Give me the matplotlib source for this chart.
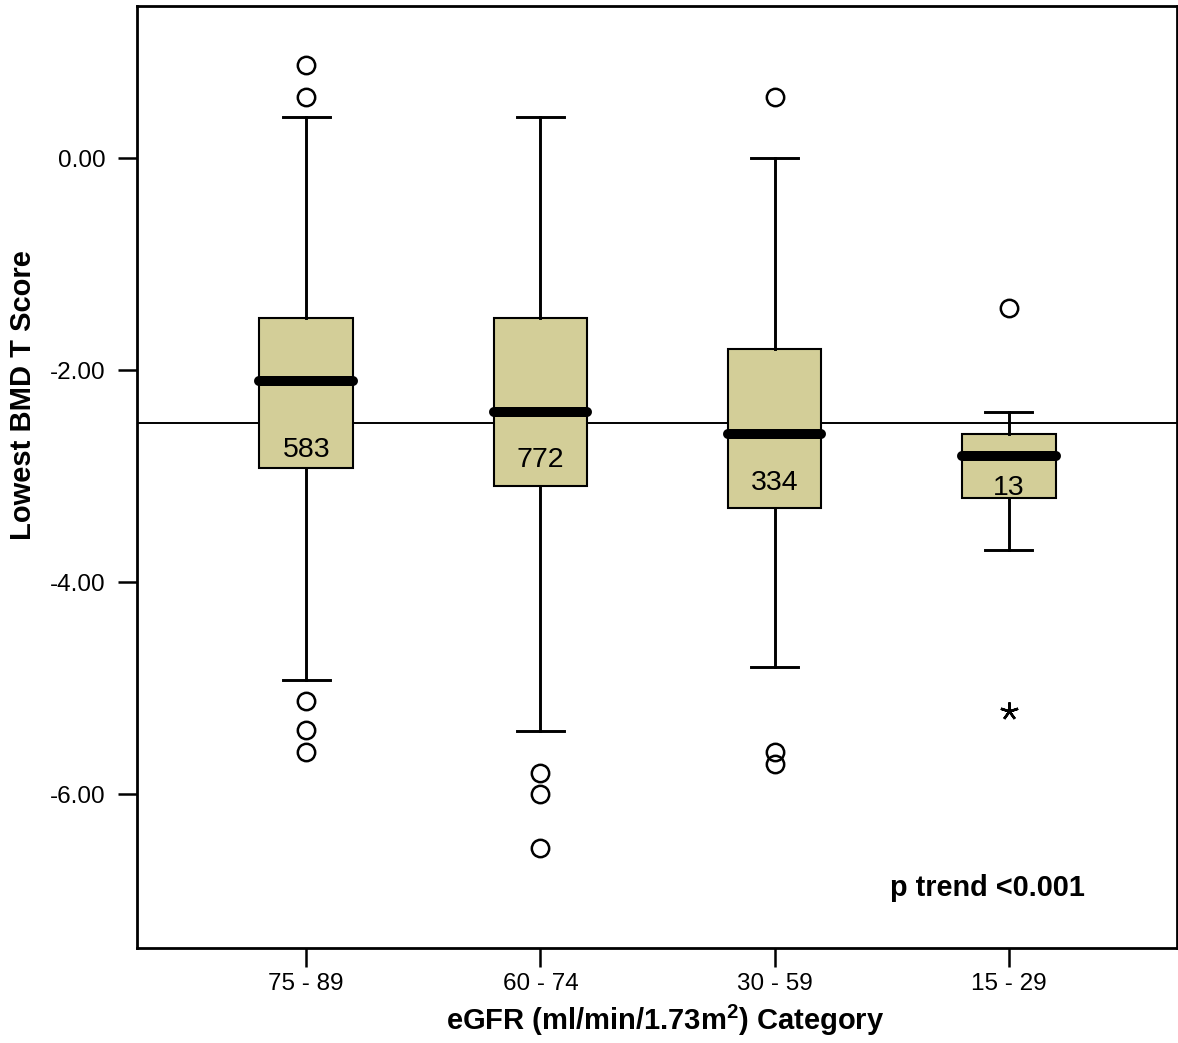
import matplotlib
matplotlib.use('Agg')
import matplotlib.pyplot as plt

plt.rcParams['font.family'] = ['Liberation Sans', 'DejaVu Sans']
plt.rcParams['axes.unicode_minus'] = False
plt.rcParams['mathtext.fontset'] = 'custom'
plt.rcParams['mathtext.rm'] = 'Liberation Sans'
plt.rcParams['mathtext.bf'] = 'Liberation Sans:bold'

# eGFR categories and box statistics
categories = ['75 - 89', '60 - 74', '30 - 59', '15 - 29']
counts = ['583', '772', '334', '13']
medians = [-2.10, -2.40, -2.60, -2.81]
q1 = [-2.92, -3.09, -3.30, -3.21]
q3 = [-1.51, -1.51, -1.80, -2.60]
whisker_low = [-4.92, -5.41, -4.80, -3.70]
whisker_high = [0.39, 0.39, 0.00, -2.40]
outliers = [
    [0.88, 0.58, -5.12, -5.40, -5.60],
    [-5.80, -6.00, -6.51],
    [0.58, -5.60, -5.72],
    [-1.41],
]
extremes = [[], [], [], [-5.22]]
count_label_y = [-2.75, -2.85, -3.07, -3.11]
osteoporosis_cut = -2.5

stats = []
for i in range(len(categories)):
    stats.append({
        'med': medians[i], 'q1': q1[i], 'q3': q3[i],
        'whislo': whisker_low[i], 'whishi': whisker_high[i],
        'fliers': outliers[i], 'label': categories[i],
    })

positions = [1, 2, 3, 4]

fig = plt.figure(figsize=(11.78, 10.43), dpi=100)
ax = fig.add_axes([0.116, 0.0914, 0.8829, 0.9033])

ax.axhline(osteoporosis_cut, color='black', linewidth=1.4, zorder=1)

ax.bxp(stats, positions=positions, widths=0.4, capwidths=0.2,
       patch_artist=True, showfliers=True,
       boxprops=dict(facecolor='#d3ce98', edgecolor='black', linewidth=1.5),
       whiskerprops=dict(color='black', linewidth=2.1),
       capprops=dict(color='black', linewidth=2.1),
       medianprops=dict(color='black', linewidth=7.2, solid_capstyle='round'),
       flierprops=dict(marker='o', markersize=12.5, markerfacecolor='none',
                       markeredgecolor='black', markeredgewidth=1.8, linestyle='none'),
       zorder=2)

for pos, vals in zip(positions, extremes):
    if vals:
        ax.plot([pos] * len(vals), vals, linestyle='none', marker=(5, 2, 0),
                markersize=13, markeredgewidth=1.8, color='black', zorder=3)

for pos, txt, y in zip(positions, counts, count_label_y):
    ax.text(pos, y, txt, ha='center', va='center', fontsize=20.5, zorder=4)

ax.text(3.907, -6.89, 'p trend <0.001', ha='center', va='center',
        fontsize=20.8, fontweight='bold')

ax.set_xlim(0.276, 4.717)
ax.set_ylim(-7.45, 1.44)
ax.set_xticks(positions)
ax.set_xticklabels(categories)
ax.set_yticks([0, -2, -4, -6])
ax.set_yticklabels(['%.2f' % v for v in [0, -2, -4, -6]])
ax.tick_params(axis='both', labelsize=17.5, length=13.5, width=1.8, direction='out')
ax.tick_params(axis='y', pad=9)
ax.tick_params(axis='x', pad=5)

for s in ax.spines.values():
    s.set_linewidth(2.0)

ax.set_ylabel('Lowest BMD T Score', fontsize=21, fontweight='bold', labelpad=9)
ax.set_xlabel(r'eGFR (ml/min/1.73m$^{\mathbf{2}}$) Category', fontsize=21,
              fontweight='bold', labelpad=5)
ax.yaxis.label.set_y(0.587)
ax.xaxis.label.set_x(0.508)

fig.savefig('out.png', dpi=100)
